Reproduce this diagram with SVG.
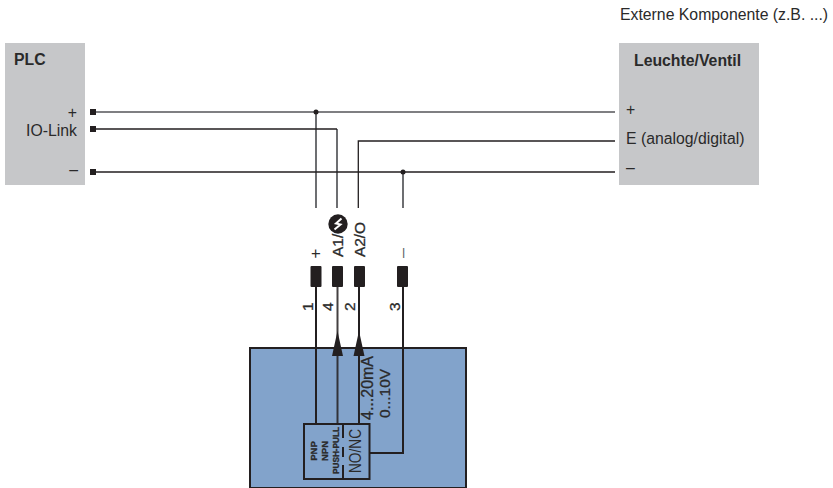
<svg xmlns="http://www.w3.org/2000/svg" width="833" height="488" viewBox="0 0 833 488">
<style>
.t{font-family:"Liberation Sans",Arial,sans-serif;fill:#2a2a2a}
.s{font-size:15.8px}
.b{font-size:15.800px;font-weight:bold}
.r{font-size:15.500px}
.v{stroke:#2a2a2a;stroke-width:0.3}
.k{fill:none;stroke:#231f20;stroke-width:1.3}
.g{fill:none;stroke:#55565a;stroke-width:1.7}
.h{fill:none;stroke:#231f20;stroke-width:2}
.p{fill:#231f20}
</style>
<rect width="833" height="488" fill="#fff"/>
<g id="plc">
<rect x="5" y="43" width="80" height="142" fill="#c6c7c9"/>
<text class="t b" x="14" y="65">PLC</text>
<text class="t s" x="77" y="118" text-anchor="end">+</text>
<text class="t s" x="77" y="136" text-anchor="end">IO-Link</text>
<text class="t s" x="78" y="175" text-anchor="end">–</text>
</g>
<g id="load">
<rect x="619" y="43" width="140" height="142" fill="#c6c7c9"/>
<text class="t b" x="634" y="66">Leuchte/Ventil</text>
<text class="t s" x="626" y="115">+</text>
<text class="t s" x="626" y="144">E (analog/digital)</text>
<text class="t s" x="626" y="173">–</text>
</g>
<text id="caption" class="t s" x="620" y="20">Externe Komponente (z.B. ...)</text>
<g id="sensor">
<rect x="250" y="348" width="216" height="140" fill="#82a3cb" stroke="#231f20" stroke-width="2"/>
<rect x="304" y="424" width="65.500" height="55" fill="none" stroke="#231f20" stroke-width="2"/>
<path d="M343 424V438M343 447V457M343 465V479" fill="none" stroke="#231f20" stroke-width="2"/>
</g>
<g id="connectors">
<path class="g" d="M93 112H615M316 112V208M337 129V208M403 172V208"/>
<path class="k" d="M93 129H337M93 172H615M358.300 208V141H615"/>
<path class="h" d="M316 267V424M359 267V424M403 267V453H370"/>
<path class="h" stroke-opacity="0.85" d="M337.500 267V424"/>
<rect class="p" x="90" y="109" width="6" height="6"/>
<rect class="p" x="90" y="126" width="6" height="6"/>
<rect class="p" x="90" y="169" width="6" height="6"/>
<circle class="p" cx="316" cy="112" r="2.500"/>
<circle class="p" cx="403" cy="172" r="2.500"/>
<path class="p" d="M337.500 331L343 356H332Z"/>
<path class="p" d="M359 331L364.500 356H353.500Z"/>
</g>
<g id="pins">
<rect class="p" x="310.500" y="266" width="11" height="21" rx="1"/>
<rect class="p" x="332" y="266" width="11" height="21" rx="1"/>
<rect class="p" x="354" y="266" width="11" height="21" rx="1"/>
<rect class="p" x="397" y="266" width="11" height="21" rx="1"/>
</g>
<g id="icon">
<circle class="p" cx="338" cy="224" r="9.700"/>
<path d="M341.500 218.500L336 223.500L340.500 224.500L334.500 229.500" fill="none" stroke="#fff" stroke-width="2"/>
</g>
<g id="labels">
<text transform="translate(321,258.500) rotate(-90)" class="t" font-size="17">+</text>
<text transform="translate(343,257) rotate(-90)" class="t r v">A1/</text>
<text transform="translate(365,257) rotate(-90)" class="t r v" textLength="35" lengthAdjust="spacing">A2/O</text>
<text transform="translate(408,258) rotate(-90)" class="t" font-size="18" fill-opacity="0.7">–</text>
<text transform="translate(313,311) rotate(-90)" class="t r v">1</text>
<text transform="translate(333,311) rotate(-90)" class="t r v">4</text>
<text transform="translate(355,311) rotate(-90)" class="t r v">2</text>
<text transform="translate(400,311) rotate(-90)" class="t r v">3</text>
<text transform="translate(373,420) rotate(-90)" class="t v" font-size="16">4...20mA</text>
<text transform="translate(390,418) rotate(-90)" class="t r v">0...10V</text>
<text transform="translate(317,451) rotate(-90)" class="t v" font-size="9.500" font-weight="bold" text-anchor="middle">PNP</text>
<text transform="translate(327.500,451) rotate(-90)" class="t v" font-size="9.500" font-weight="bold" text-anchor="middle">NPN</text>
<text transform="translate(339,474) rotate(-90)" class="t v" font-size="9" font-weight="bold" textLength="47" lengthAdjust="spacingAndGlyphs">PUSH-PULL</text>
<text transform="translate(361,473) rotate(-90)" class="t" font-size="17" textLength="44" lengthAdjust="spacingAndGlyphs">NO/NC</text>
</g>
</svg>
